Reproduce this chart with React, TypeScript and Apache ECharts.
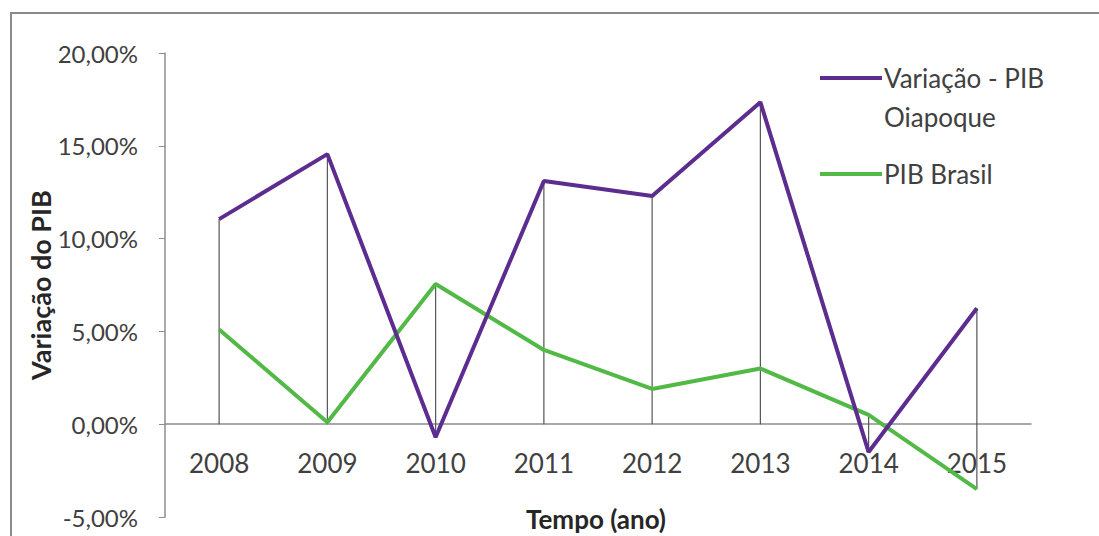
import React, { useEffect, useRef } from "react";
import * as echarts from "echarts";

const years = ["2008", "2009", "2010", "2011", "2012", "2013", "2014", "2015"];
const oiapoque = [0.1105, 0.1455, -0.007, 0.131, 0.123, 0.1735, -0.015, 0.0625];
const brasil = [0.051, 0.001, 0.0755, 0.04, 0.019, 0.03, 0.005, -0.035];
const seriesNames = ["Variação - PIB Oiapoque", "PIB Brasil"];
const yTicks = { min: -0.05, max: 0.2, interval: 0.05 };

const PURPLE = "#5c2d8f";
const GREEN = "#52b947";
const FONT = "Lato";

const fmt = (v: number) => (v * 100).toFixed(2).replace(".", ",") + "%";

export default function App() {
  const ref = useRef<HTMLDivElement>(null);
  useEffect(() => {
    if (!ref.current) return;
    const chart = echarts.init(ref.current, null, { renderer: "svg" });
    const dropData = years.map((_, i) => [i, oiapoque[i], brasil[i]]);
    chart.setOption({
      animation: false,
      backgroundColor: "#fff",
      grid: { left: 165, right: 68, top: 53, bottom: 19, outerBoundsMode: "none", containLabel: false },
      xAxis: {
        type: "category",
        data: years,
        boundaryGap: true,
        axisLine: { onZero: true, lineStyle: { color: "#8c8c8c", width: 1.5 } },
        axisTick: { show: false },
        axisLabel: { margin: -67, fontFamily: FONT, fontSize: 26, color: "#404040" },
      },
      yAxis: {
        type: "value",
        min: yTicks.min,
        max: yTicks.max,
        interval: yTicks.interval,
        splitLine: { show: false },
        axisLine: { show: true, lineStyle: { color: "#8c8c8c", width: 1.5 } },
        axisTick: { show: true, length: 6, lineStyle: { color: "#8c8c8c" } },
        axisLabel: { margin: 27, fontFamily: FONT, fontSize: 24, color: "#404040", formatter: fmt },
      },
      series: [
        {
          type: "custom",
          name: "drop",
          data: dropData,
          z: 1,
          renderItem: (params: any, api: any) => {
            const i = api.value(0);
            const a = api.value(1);
            const b = api.value(2);
            const hi = Math.max(a, b, 0);
            const lo = Math.min(a, b, 0);
            const p1 = api.coord([i, hi]);
            const p2 = api.coord([i, lo]);
            return {
              type: "line",
              shape: { x1: p1[0], y1: p1[1], x2: p2[0], y2: p2[1] },
              style: { stroke: "#555", lineWidth: 1.2 },
            };
          },
        },
        {
          type: "line",
          name: seriesNames[0],
          data: oiapoque,
          symbol: "none",
          z: 3,
          lineStyle: { color: PURPLE, width: 4 },
          itemStyle: { color: PURPLE },
        },
        {
          type: "line",
          name: seriesNames[1],
          data: brasil,
          symbol: "none",
          z: 2,
          lineStyle: { color: GREEN, width: 4 },
          itemStyle: { color: GREEN },
        },
      ],
      graphic: [
        {
          type: "rect",
          shape: { x: 11, y: 13, width: 1100, height: 600 },
          style: { fill: "none", stroke: "#8a8a8a", lineWidth: 2 },
          silent: true,
        },
        {
          type: "text",
          x: 40,
          y: 285,
          rotation: Math.PI / 2,
          style: {
            text: "Variação do PIB",
            font: `bold 27px ${FONT}`,
            fill: "#262626",
            textAlign: "center",
            textVerticalAlign: "middle",
          },
        },
        {
          type: "text",
          x: 596,
          y: 519,
          style: {
            text: "Tempo (ano)",
            font: `bold 26px ${FONT}`,
            fill: "#262626",
            textAlign: "center",
            textVerticalAlign: "middle",
          },
        },
        { type: "line", shape: { x1: 820, y1: 78, x2: 882, y2: 78 }, style: { stroke: PURPLE, lineWidth: 4 } },
        {
          type: "text",
          x: 884,
          y: 78,
          style: { text: "Variação - PIB", font: `26px ${FONT}`, fill: "#404040", textVerticalAlign: "middle" },
        },
        {
          type: "text",
          x: 884,
          y: 117,
          style: { text: "Oiapoque", font: `26px ${FONT}`, fill: "#404040", textVerticalAlign: "middle" },
        },
        { type: "line", shape: { x1: 820, y1: 174, x2: 882, y2: 174 }, style: { stroke: GREEN, lineWidth: 4 } },
        {
          type: "text",
          x: 884,
          y: 174,
          style: { text: seriesNames[1], font: `26px ${FONT}`, fill: "#404040", textVerticalAlign: "middle" },
        },
      ],
    });
    return () => chart.dispose();
  }, []);
  return (
    <div
      ref={ref}
      style={{ position: "fixed", left: 0, top: 0, width: 1099, height: 536 }}
    />
  );
}
